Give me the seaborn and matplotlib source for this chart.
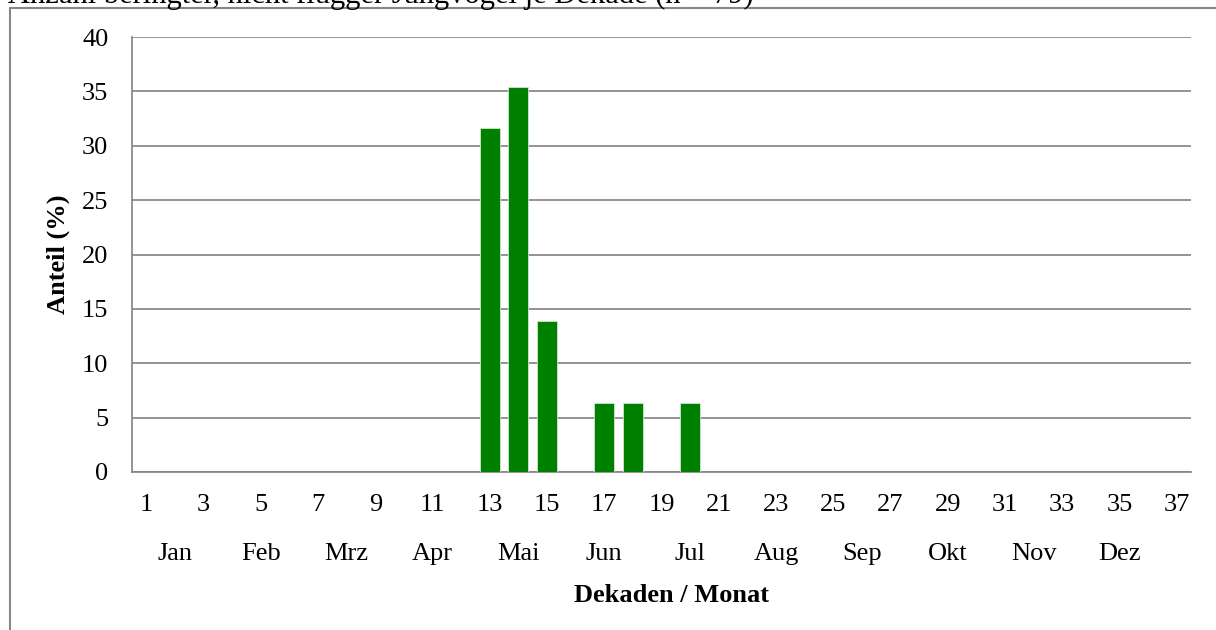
import matplotlib
matplotlib.use("Agg")
import matplotlib.pyplot as plt
from matplotlib.patches import Rectangle
from matplotlib.transforms import blended_transform_factory
import seaborn as sns
import pandas as pd

# Ten-day periods (Dekaden) of the year and share of ringed nestlings per period
decades = [str(d) for d in range(1, 38)]
share = [0.0] * 37
share[12] = 31.6   # Dekade 13
share[13] = 35.4   # Dekade 14
share[14] = 13.9   # Dekade 15
share[16] = 6.3    # Dekade 17
share[17] = 6.3    # Dekade 18
share[19] = 6.3    # Dekade 20

months = ["Jan", "Feb", "Mrz", "Apr", "Mai", "Jun",
          "Jul", "Aug", "Sep", "Okt", "Nov", "Dez"]
y_ticks = [0, 5, 10, 15, 20, 25, 30, 35, 40]

title = "Anzahl beringter, nicht flügger Jungvögel je Dekade (n = 79)"

sns.set_theme(style="white")
plt.rcParams["font.family"] = ["Liberation Serif", "DejaVu Serif"]
plt.rcParams["text.color"] = "black"
plt.rcParams["axes.labelcolor"] = "black"

W, H = 1216, 630
fig = plt.figure(figsize=(W / 100, H / 100), dpi=100)
fig.patch.set_facecolor("white")

grey = "#878787"
fs = 19

# Chart frame around the whole graphic
fig.patches.append(Rectangle((10 / W, -0.1), 1.2, 1 - 8 / H + 0.1,
                             transform=fig.transFigure, fill=False,
                             edgecolor=grey, linewidth=1.5, zorder=0))
# Caption line running along the upper edge
fig.text(8 / W, 1 - 3.0 / H, title, ha="left", va="baseline",
         fontsize=22, color="black")

ax = fig.add_axes([132 / W, 1 - 472 / H, (1191 - 132) / W, (472 - 37) / H])

df = pd.DataFrame({"Dekade": decades, "Anteil": share})
sns.barplot(data=df, x="Dekade", y="Anteil", order=decades, color="#008000",
            saturation=1, width=0.7, edgecolor="#cfe6cf", linewidth=0.6,
            ax=ax, zorder=3)

ax.set_xlim(-0.5, len(decades) - 0.5)
ax.set_ylim(0, 40)
ax.set_yticks(y_ticks)
ax.set_yticklabels([str(v) for v in y_ticks], fontsize=fs)
ax.yaxis.grid(True, color=grey, linewidth=1.25, zorder=0)
ax.set_axisbelow(True)

# Decade labels on odd decades; tick marks between categories
ax.set_xticks(range(len(decades)))
ax.set_xticklabels([d if int(d) % 2 == 1 else "" for d in decades], fontsize=fs)
ax.set_xticks([i - 0.5 for i in range(len(decades) + 1)], minor=True)
ax.tick_params(axis="x", which="major", length=0, pad=16, labelcolor="black")
ax.tick_params(axis="x", which="minor", length=6, width=1.2, color=grey,
               direction="out")
ax.tick_params(axis="y", which="major", length=6, width=1.2, color=grey,
               direction="out", pad=11, labelcolor="black")

for side in ["top", "right"]:
    ax.spines[side].set_visible(False)
for side in ["left", "bottom"]:
    ax.spines[side].set_color(grey)
    ax.spines[side].set_linewidth(1.25)

# Month names centred under each group of three decades
trans = blended_transform_factory(ax.transData, ax.transAxes)
for i, m in enumerate(months):
    ax.text(3 * i + 1, (472 - 554) / (472 - 37), m, transform=trans,
            ha="center", va="center", fontsize=fs, color="black")

ax.set_xlabel("")
ax.set_ylabel("Anteil (%)", fontsize=fs, fontweight="bold", labelpad=9,
              color="black")
fig.text(671 / W, 1 - 595 / H, "Dekaden / Monat", ha="center", va="center",
         fontsize=fs, fontweight="bold", color="black")

fig.savefig("out.png", dpi=100, facecolor="white")
